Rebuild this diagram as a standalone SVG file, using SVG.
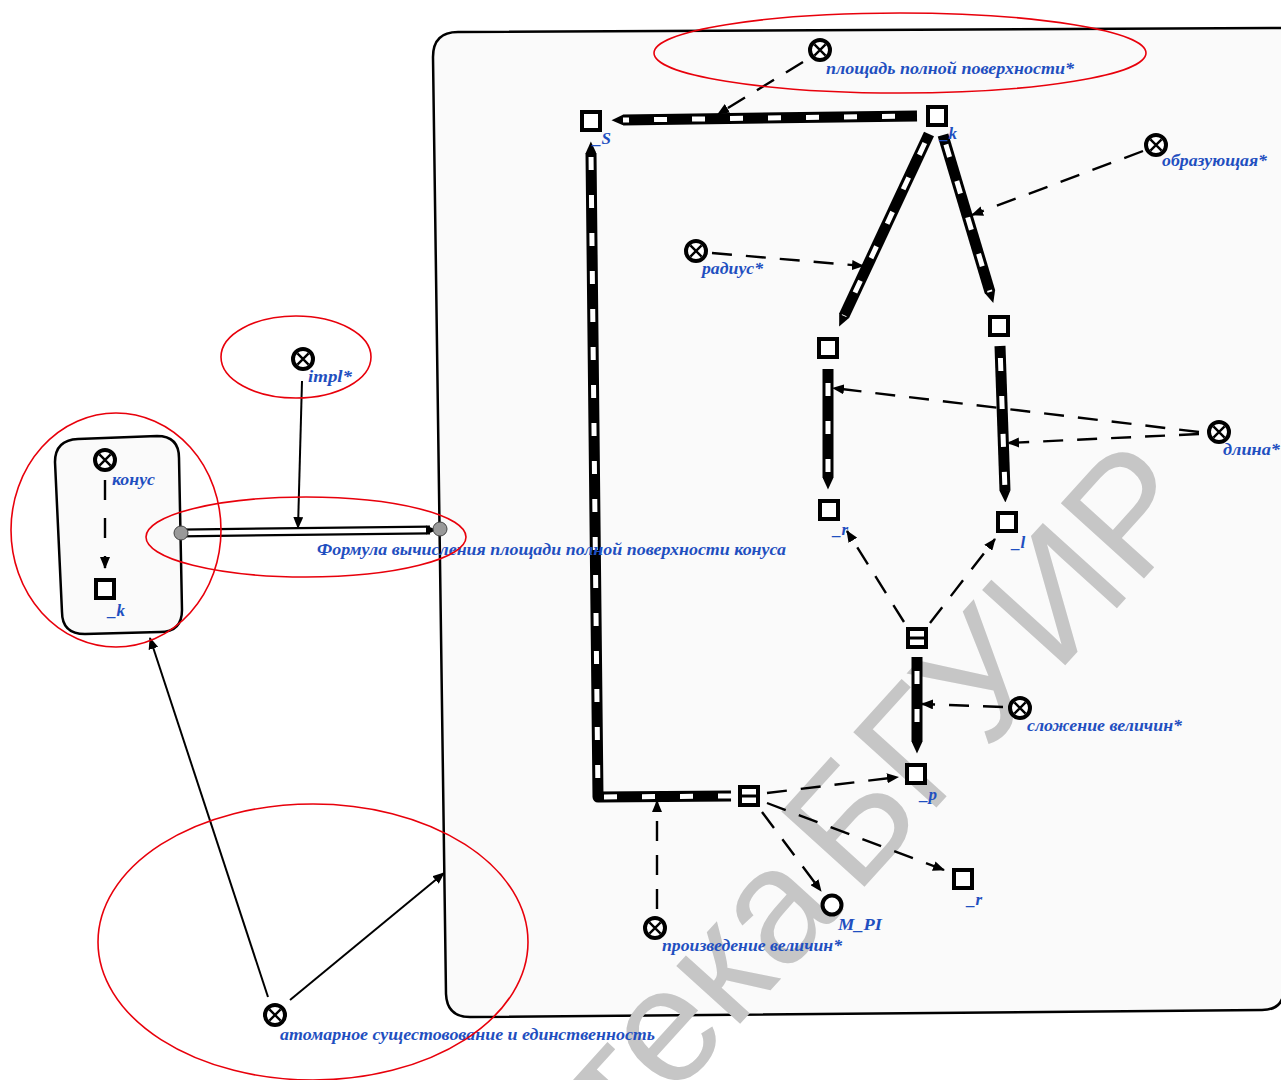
<svg xmlns="http://www.w3.org/2000/svg" width="1281" height="1080" viewBox="0 0 1281 1080">
<defs>
<style>
.lbl{font-family:"Liberation Serif","DejaVu Serif",serif;font-style:italic;font-weight:bold;font-size:17px;fill:#1f4fc0}
.ell{fill:none;stroke:#e8000b;stroke-width:1.6}
.sq{fill:#fff;stroke:#000;stroke-width:4}
.ring{fill:#fff;stroke:#000;stroke-width:4}
.xl{stroke:#000;stroke-width:2.4}
.band{fill:none;stroke:#000;stroke-width:11;stroke-linejoin:round}
.bandw{fill:none;stroke:#fff;stroke-width:5;stroke-dasharray:13 25}
.dash{fill:none;stroke:#000;stroke-width:2.4;stroke-dasharray:20 14}
.solid{fill:none;stroke:#000;stroke-width:2}
.wm{font-family:"Liberation Sans",Arial,sans-serif;font-size:163px;fill:#c6c6c6}
</style>
<marker id="ah" viewBox="0 0 12 10" markerWidth="12" markerHeight="10" refX="11" refY="5" orient="auto" markerUnits="userSpaceOnUse"><path d="M0,0 L12,5 L0,10 z" fill="#000"/></marker>
<marker id="tip" viewBox="0 0 12 11" markerWidth="12" markerHeight="11" refX="0.5" refY="5.5" orient="auto" markerUnits="userSpaceOnUse"><path d="M0,0 L12,5.5 L0,11 z" fill="#000"/></marker>
<g id="xnode"><circle r="10" class="ring"/><path d="M-5.6,-5.6 L5.6,5.6 M-5.6,5.6 L5.6,-5.6" class="xl"/></g>
<g id="sqnode"><rect x="-9" y="-9" width="18" height="18" class="sq"/></g>
<g id="eqnode"><rect x="-9" y="-9" width="18" height="18" class="sq"/><line x1="-9" y1="0" x2="9" y2="0" stroke="#000" stroke-width="3"/></g>
</defs>

<rect width="1281" height="1080" fill="#fff"/>

<g id="frame">
<path d="M433,57 Q433,32 458,32 L1284,28 L1284,988 Q1284,1010 1262,1010 L470,1017 Q447,1017 446,994 Z" fill="#fafafa" stroke="#000" stroke-width="2.5"/>
</g>

<text class="wm" x="1208" y="508" text-anchor="end" word-spacing="-28" transform="rotate(-47.8 1208 508)">Библиотека БГУИР</text>

<g id="leftbox">
<path d="M55,462 Q55,440 78,439 L157,436 Q179,436 179,458 L182,610 Q182,632 160,632 L85,634 Q62,634 62,612 Z" fill="#fafafa" stroke="#000" stroke-width="2.5"/>
</g>

<g id="connectors">
<path class="band" d="M917,116 L623,120" marker-end="url(#tip)"/>
<path class="bandw" d="M917,116 L623,120" style="stroke-dashoffset:-22"/>
<path class="band" d="M731,796 L598,797 L591,153" marker-end="url(#tip)"/>
<path class="bandw" d="M731,796 L598,797 L591,153"/>
<path class="band" d="M929,134 L844,316" marker-end="url(#tip)"/>
<path class="bandw" d="M929,134 L844,316" style="stroke-dashoffset:-10"/>
<path class="band" d="M943,135 L990,292" marker-end="url(#tip)"/>
<path class="bandw" d="M943,135 L990,292" style="stroke-dashoffset:-10"/>
<path class="band" d="M828,369 L828,478" marker-end="url(#tip)"/>
<path class="bandw" d="M828,369 L828,478" style="stroke-dashoffset:-14"/>
<path class="band" d="M1000,346 L1005,491" marker-end="url(#tip)"/>
<path class="bandw" d="M1000,346 L1005,491" style="stroke-dashoffset:-12"/>
<path class="band" d="M917,657 L917,742" marker-end="url(#tip)"/>
<path class="bandw" d="M917,657 L917,742" style="stroke-dashoffset:-14"/>

<path class="dash" d="M803,62 L718,114" marker-end="url(#ah)"/>
<path class="dash" d="M1143,151 L972,215" marker-end="url(#ah)"/>
<path class="dash" d="M712,253 L863,266" marker-end="url(#ah)"/>
<path class="dash" d="M1199,432 L833,388" marker-end="url(#ah)"/>
<path class="dash" d="M1199,434 L1008,443" marker-end="url(#ah)"/>
<path class="dash" d="M904,622 L847,531" marker-end="url(#ah)"/>
<path class="dash" d="M930,623 L995,539" marker-end="url(#ah)"/>
<path class="dash" d="M1003,707 L922,704" marker-end="url(#ah)"/>
<path class="dash" d="M767,793 L898,777" marker-end="url(#ah)"/>
<path class="dash" d="M767,803 L944,870" marker-end="url(#ah)"/>
<path class="dash" d="M762,812 L821,891" marker-end="url(#ah)"/>
<path class="dash" d="M657,909 L657,801" marker-end="url(#ah)"/>
<path class="dash" d="M105,480 L105,568" marker-end="url(#ah)" style="stroke-dasharray:20 18"/>

<path d="M180,533 L430,530" stroke="#000" stroke-width="9" fill="none"/>
<path d="M180,533 L430,530" stroke="#fff" stroke-width="4.5" fill="none"/>
<path d="M426,525.5 L437,530 L426,534.5 z" fill="#000"/>
<circle cx="181" cy="533" r="7" fill="#999" stroke="#444" stroke-width="1"/>
<circle cx="440" cy="529" r="7" fill="#999" stroke="#444" stroke-width="1"/>

<path class="solid" d="M302,381 L298,528" marker-end="url(#ah)"/>
<path class="solid" d="M268,997 L150,638" marker-end="url(#ah)"/>
<path class="solid" d="M290,1000 L444,873" marker-end="url(#ah)"/>
</g>

<g id="n_area"><use href="#xnode" x="820" y="50"/><text class="lbl" x="826" y="74" textLength="248" lengthAdjust="spacingAndGlyphs">площадь полной поверхности*</text></g>
<g id="n_S"><use href="#sqnode" x="591" y="121"/><text class="lbl" x="593" y="144">_S</text></g>
<g id="n_k"><use href="#sqnode" x="937" y="116"/><text class="lbl" x="940" y="139">_k</text></g>
<g id="n_gen"><use href="#xnode" x="1156" y="145"/><text class="lbl" x="1162" y="166" textLength="105" lengthAdjust="spacingAndGlyphs">образующая*</text></g>
<g id="n_rad"><use href="#xnode" x="696" y="251"/><text class="lbl" x="702" y="274" textLength="61" lengthAdjust="spacingAndGlyphs">радиус*</text></g>
<g id="n_a"><use href="#sqnode" x="828" y="348"/></g>
<g id="n_b"><use href="#sqnode" x="999" y="326"/></g>
<g id="n_len"><use href="#xnode" x="1219" y="432"/><text class="lbl" x="1223" y="455" textLength="57" lengthAdjust="spacingAndGlyphs">длина*</text></g>
<g id="n_r1"><use href="#sqnode" x="829" y="510"/><text class="lbl" x="833" y="535">_r</text></g>
<g id="n_l"><use href="#sqnode" x="1007" y="522"/><text class="lbl" x="1012" y="548">_l</text></g>
<g id="n_sum"><use href="#eqnode" x="917" y="638"/></g>
<g id="n_add"><use href="#xnode" x="1020" y="708"/><text class="lbl" x="1027" y="731" textLength="155" lengthAdjust="spacingAndGlyphs">сложение величин*</text></g>
<g id="n_p"><use href="#sqnode" x="916" y="774"/><text class="lbl" x="920" y="800">_p</text></g>
<g id="n_prod"><use href="#eqnode" x="749" y="796"/></g>
<g id="n_r2"><use href="#sqnode" x="963" y="879"/><text class="lbl" x="967" y="905">_r</text></g>
<g id="n_pi"><circle cx="832" cy="905" r="9.5" class="ring"/><text class="lbl" x="838" y="930" textLength="44" lengthAdjust="spacingAndGlyphs">M_PI</text></g>
<g id="n_mul"><use href="#xnode" x="655" y="928"/><text class="lbl" x="662" y="951" textLength="180" lengthAdjust="spacingAndGlyphs">произведение величин*</text></g>
<g id="n_impl"><use href="#xnode" x="303" y="359"/><text class="lbl" x="308" y="382" textLength="44" lengthAdjust="spacingAndGlyphs">impl*</text></g>
<g id="n_cone"><use href="#xnode" x="105" y="460"/><text class="lbl" x="112" y="485" textLength="43" lengthAdjust="spacingAndGlyphs">конус</text></g>
<g id="n_k2"><use href="#sqnode" x="105" y="589"/><text class="lbl" x="108" y="616">_k</text></g>
<g id="n_atom"><use href="#xnode" x="275" y="1015"/><text class="lbl" x="280" y="1040" textLength="375" lengthAdjust="spacingAndGlyphs">атомарное сущестовование и единственность</text></g>
<g id="l_formula"><text class="lbl" x="317" y="555" textLength="469" lengthAdjust="spacingAndGlyphs">Формула вычисления площади полной поверхности конуса</text></g>

<g id="highlights">
<ellipse class="ell" cx="900" cy="53" rx="246" ry="40"/>
<ellipse class="ell" cx="296" cy="357" rx="75" ry="41"/>
<ellipse class="ell" cx="116" cy="530" rx="105" ry="117"/>
<ellipse class="ell" cx="306" cy="537" rx="160" ry="40"/>
<ellipse class="ell" cx="313" cy="942" rx="215" ry="138"/>
</g>
</svg>
